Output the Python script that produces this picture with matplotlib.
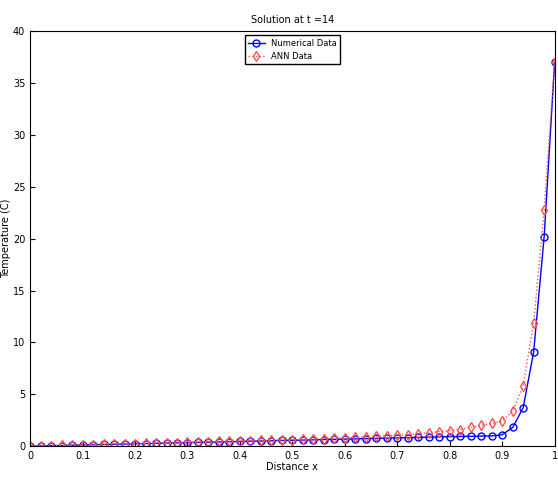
import numpy as np
import matplotlib.pyplot as plt

x = [i*0.02 for i in range(51)]
num = [0.0,0.02,0.04,0.06,0.09,0.11,0.14,0.16,0.18,0.2,0.23,0.25,0.27,0.3,0.32,0.34,0.36,0.39,0.41,0.43,0.45,0.48,0.5,0.52,0.55,0.57,0.59,0.61,0.64,0.66,0.68,0.7,0.73,0.75,0.77,0.8,0.82,0.84,0.86,0.89,0.91,0.93,0.95,0.97,0.99,1.1,1.8,3.7,9.1,20.2,37.0]
ann = [0.0,0.03,0.05,0.08,0.1,0.13,0.15,0.18,0.2,0.23,0.25,0.28,0.3,0.33,0.35,0.38,0.4,0.43,0.45,0.48,0.5,0.53,0.55,0.58,0.6,0.63,0.65,0.68,0.72,0.76,0.8,0.85,0.9,0.95,1.0,1.05,1.1,1.2,1.3,1.4,1.5,1.6,1.8,2.0,2.2,2.4,3.4,5.8,11.9,22.8,37.0]

fig = plt.figure(figsize=(5.58, 4.86), dpi=100)
ax = fig.add_axes([0.054, 0.082, 0.94, 0.854])
ax.plot(x, num, '-o', color='blue', lw=1, ms=5, mfc='none', label='Numerical Data')
ax.plot(x, ann, ':d', color='#ff5050', lw=1, ms=5, mfc='none', label='ANN Data')
ax.set_xlim(0, 1); ax.set_ylim(0, 40)
ax.set_xticks(np.arange(0, 1.01, 0.1))
ax.set_xticklabels(['0','0.1','0.2','0.3','0.4','0.5','0.6','0.7','0.8','0.9','1'])
ax.tick_params(labelsize=7, direction='in')
ax.set_title('Solution at t =14', fontsize=7)
ax.set_xlabel('Distance x', fontsize=7, labelpad=1)
ax.set_ylabel('Temperature (C)', fontsize=7, labelpad=1)
ax.legend(loc='upper center', fontsize=6, framealpha=1, edgecolor='black', fancybox=False, bbox_to_anchor=(0.5, 1.0))
fig.savefig('out.png')
